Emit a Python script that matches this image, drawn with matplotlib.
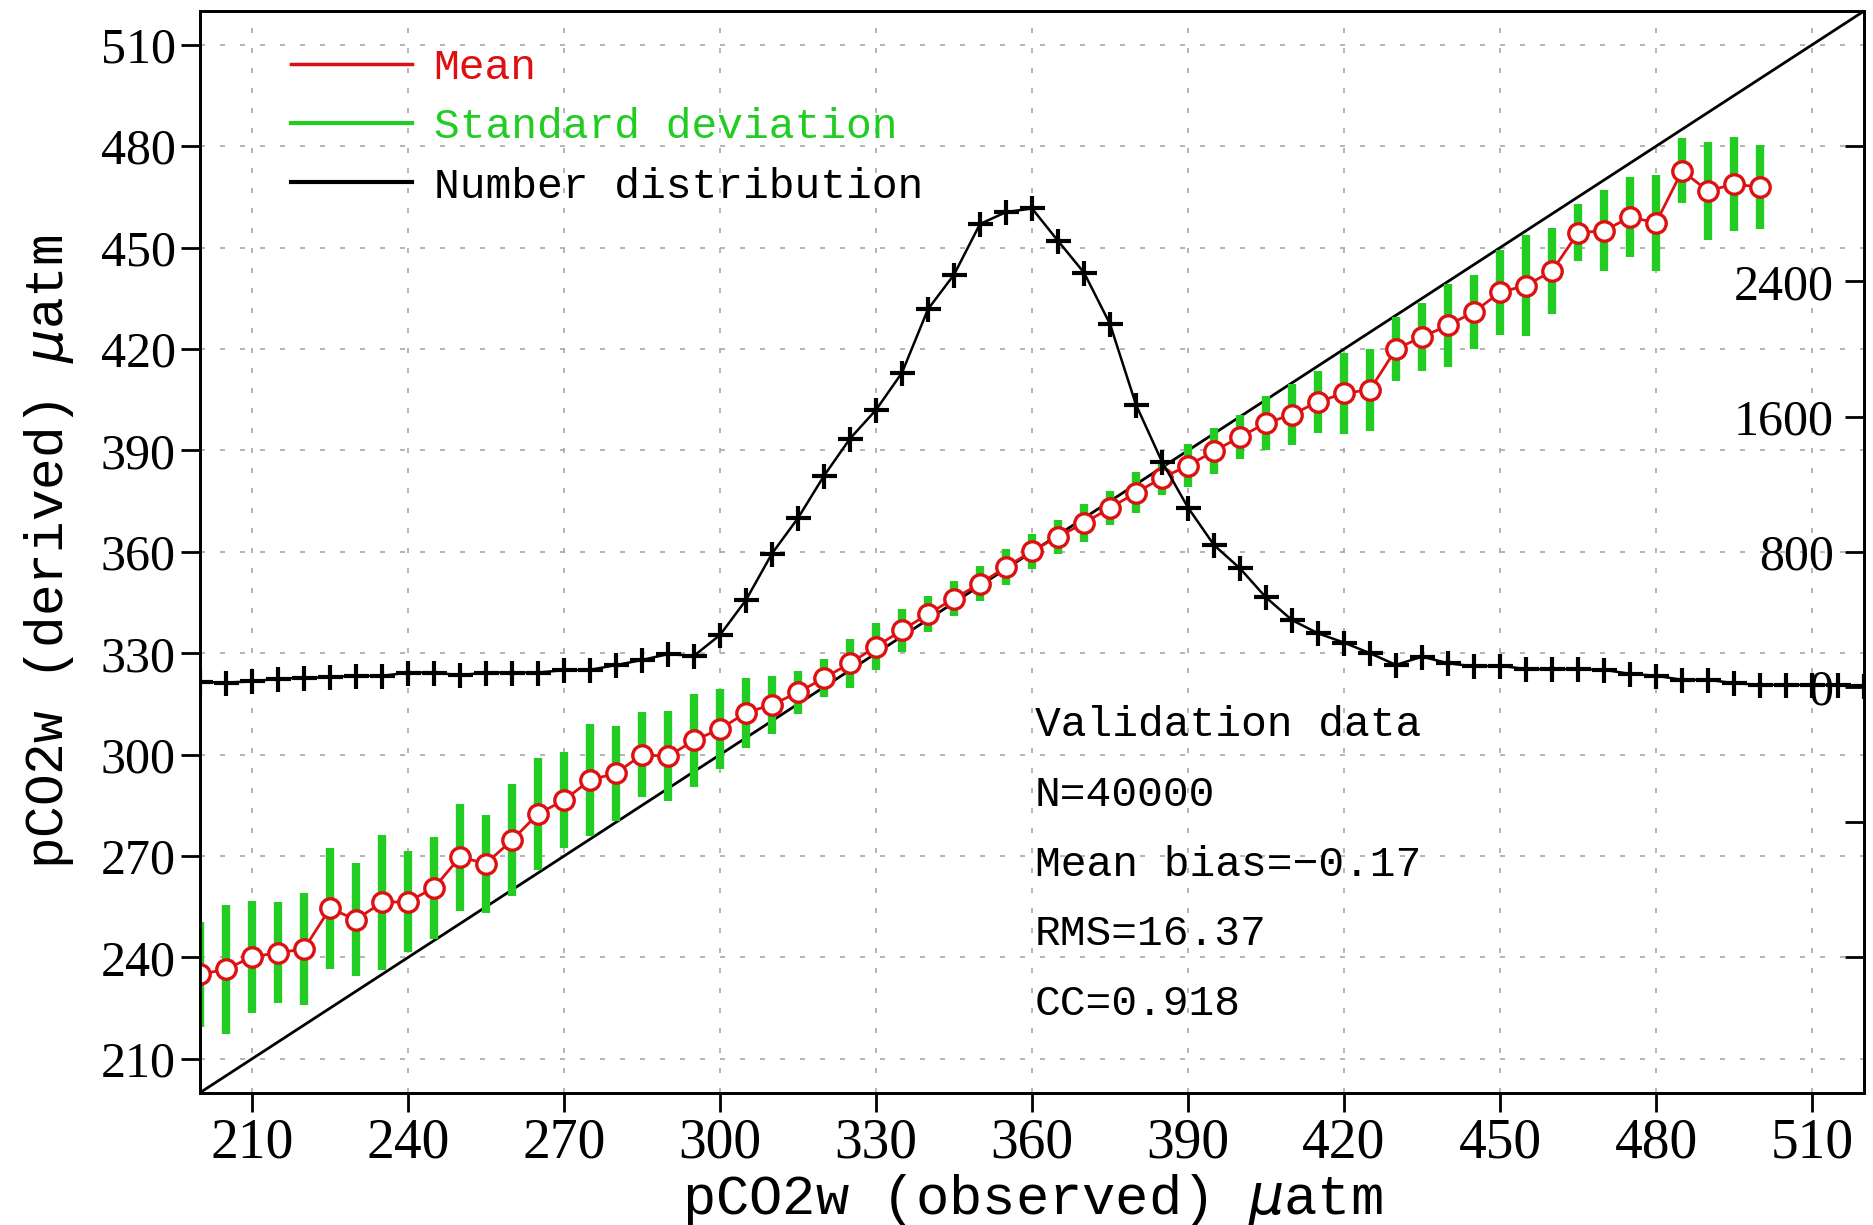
import matplotlib
matplotlib.use('Agg')
import matplotlib.pyplot as plt
from matplotlib.lines import Line2D
import numpy as np

# observed pCO2w bins (x) and statistics of the derived values
obs = np.arange(200, 501, 5)
mean_derived = [235.0, 236.5, 240.2, 241.4, 242.5, 254.5, 251.2, 256.3, 256.5, 260.6,
                269.7, 267.8, 274.7, 282.5, 286.5, 292.5, 294.5, 300.0, 299.5, 304.2,
                307.6, 312.4, 314.8, 318.4, 322.7, 327.0, 332.0, 336.8, 341.6, 346.2,
                350.6, 355.5, 360.2, 364.5, 368.5, 373.0, 377.5, 381.9, 385.5, 389.8,
                394.0, 398.1, 400.6, 404.4, 406.9, 408.0, 420.0, 423.6, 427.0, 431.0,
                436.8, 438.8, 443.1, 454.4, 455.0, 459.0, 457.4, 472.7, 466.8, 468.8,
                467.9]
std_derived = [15.5, 19.0, 16.6, 15.0, 16.5, 17.8, 16.8, 20.0, 15.0, 15.0,
               15.8, 14.5, 16.5, 16.6, 14.2, 16.5, 14.0, 12.5, 13.3, 13.8,
               11.7, 10.4, 8.6, 6.4, 5.5, 7.2, 7.0, 6.4, 5.4, 5.2,
               5.2, 5.2, 5.2, 5.0, 5.7, 5.0, 6.0, 5.0, 6.4, 6.7,
               6.4, 7.9, 9.1, 9.1, 11.9, 12.1, 9.6, 10.0, 12.3, 11.0,
               12.5, 15.0, 12.8, 8.4, 12.0, 11.8, 14.2, 9.6, 14.5, 14.0,
               12.5]

# number distribution (right axis)
count_x = np.arange(200, 521, 5)
counts = [30, 27, 33, 50, 55, 58, 68, 66, 86, 86,
          70, 86, 86, 86, 100, 102, 130, 160, 195, 185,
          308, 515, 790, 1000, 1250, 1470, 1640, 1860, 2236, 2440,
          2740, 2810, 2832, 2640, 2452, 2148, 1670, 1333, 1062, 840,
          702, 530, 396, 318, 263, 200, 131, 180, 141, 122,
          127, 106, 106, 106, 102, 78, 67, 43, 43, 23,
          13, 13, 13, 13, 7]

ticks = np.arange(210, 511, 30)
count_ticks = np.arange(-1600, 3201, 800)
count_labels = ['', '', '0', '800', '1600', '2400', '']
stats = ['Validation data', 'N=40000', 'Mean bias=\u22120.17', 'RMS=16.37', 'CC=0.918']

mono = 'Liberation Mono'
serif = 'Liberation Serif'
red = '#dd1111'
green = '#22cc22'

fig = plt.figure(figsize=(18.74, 12.25), dpi=100)
ax = fig.add_axes([0.1067, 0.108, 0.888, 0.883])

ax.set_xlim(200, 520)
ax.set_ylim(200, 520)
ax.set_xticks(ticks)
ax.set_yticks(ticks)
ax.set_axisbelow(True)
ax.grid(True, color='#a8a8a8', linestyle=(0, (3, 9)), linewidth=1.2)

# 1:1 line
ax.axline((200, 200), slope=1, color='black', lw=2, zorder=2)

ax.vlines(obs, np.array(mean_derived) - np.array(std_derived),
          np.array(mean_derived) + np.array(std_derived),
          color=green, lw=6, zorder=3)
ax.plot(obs, mean_derived, color=red, lw=2, marker='o', ms=14,
        mfc='white', mec=red, mew=2.4, zorder=4)

for s in ax.spines.values():
    s.set_linewidth(2)
ax.tick_params(axis='both', direction='out', length=14, width=2)
for lab in ax.get_yticklabels():
    lab.set_fontfamily(serif)
    lab.set_fontsize(36)
for lab in ax.get_xticklabels():
    lab.set_fontfamily(serif)
    lab.set_fontsize(40)

ax.set_xlabel(r'pCO2w (observed) $\mu$atm', fontfamily=mono, fontsize=40, labelpad=2)
ax.set_ylabel(r'pCO2w (derived) $\mu$atm', fontfamily=mono, fontsize=38, labelpad=18)

ty = 308.7
for line in stats:
    ax.text(360.5, ty, line, fontfamily=mono, fontsize=31, va='center', ha='left')
    ty -= 20.6

handles = [Line2D([], [], color=red, lw=2.5),
           Line2D([], [], color=green, lw=3),
           Line2D([], [], color='black', lw=3)]
leg = ax.legend(handles, ['Mean', 'Standard deviation', 'Number distribution'],
                loc='upper left', bbox_to_anchor=(0.055, 0.966), frameon=False,
                prop={'family': mono, 'size': 31}, handlelength=2.8,
                handletextpad=0.5, labelspacing=0.45, borderpad=0, borderaxespad=0)
for txt, c in zip(leg.get_texts(), [red, green, 'black']):
    txt.set_color(c)

# number distribution on the right axis
ax2 = ax.twinx()
ax2.set_ylim(-2400, 4000)
ax2.plot(count_x, counts, color='black', lw=1.8, marker='+', ms=18, mew=3)
ax2.set_yticks(count_ticks)
ax2.set_yticklabels(count_labels)
ax2.tick_params(axis='y', direction='in', length=14, width=2, pad=-22)
for lab in ax2.get_yticklabels():
    lab.set_fontfamily(serif)
    lab.set_fontsize(36)
    lab.set_horizontalalignment('right')
for s in ax2.spines.values():
    s.set_linewidth(2)

fig.savefig('out.png', dpi=100)
